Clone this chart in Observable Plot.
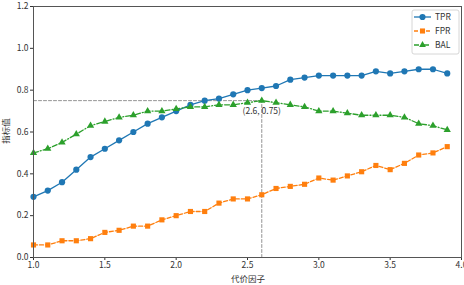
<!DOCTYPE html>
<html><head><meta charset="utf-8">
<script src="https://cdn.jsdelivr.net/npm/d3@7"></script>
<script src="https://cdn.jsdelivr.net/npm/@observablehq/plot@0.6"></script>
<style>body{margin:0;background:#fff}</style>
</head><body><div id="chart"></div>
<script>
const costFactor = [1.0,1.1,1.2,1.3,1.4,1.5,1.6,1.7,1.8,1.9,2.0,2.1,2.2,2.3,2.4,2.5,2.6,2.7,2.8,2.9,3.0,3.1,3.2,3.3,3.4,3.5,3.6,3.7,3.8,3.9];
const tpr = [0.29,0.32,0.36,0.42,0.48,0.52,0.56,0.60,0.64,0.67,0.70,0.73,0.75,0.76,0.78,0.80,0.81,0.82,0.85,0.86,0.87,0.87,0.87,0.87,0.89,0.88,0.89,0.90,0.90,0.88];
const fpr = [0.06,0.06,0.08,0.08,0.09,0.12,0.13,0.15,0.15,0.18,0.20,0.22,0.22,0.26,0.28,0.28,0.30,0.33,0.34,0.35,0.38,0.37,0.39,0.41,0.44,0.42,0.45,0.49,0.50,0.53];
const bal = [0.50,0.52,0.55,0.59,0.63,0.65,0.67,0.68,0.70,0.70,0.71,0.72,0.72,0.73,0.73,0.74,0.75,0.74,0.73,0.72,0.70,0.70,0.69,0.68,0.68,0.68,0.67,0.64,0.63,0.61];
const seriesNames = ["TPR","FPR","BAL"];
const xTicks = [1.0,1.5,2.0,2.5,3.0,3.5,4.0];
const yTicks = [0.0,0.2,0.4,0.6,0.8,1.0,1.2];
const best = {x: 2.6, y: 0.75};
const xLabel = "代价因子";
const yLabel = "指标值";

const colors = ["#1f77b4","#ff7f0e","#2ca02c"];
const dashes = [null,"4,2","5,2,1,2"];
const symbols = ["circle","square","triangle"];
const values = [tpr,fpr,bal];
const font = "'Noto Sans CJK SC', 'Noto Sans', sans-serif";

const marks = [
  Plot.line([[costFactor[0], best.y],[best.x, best.y]], {stroke:"#888", strokeWidth:0.9, strokeDasharray:"3,2"}),
  Plot.line([[best.x, 0],[best.x, best.y]], {stroke:"#888", strokeWidth:0.9, strokeDasharray:"3,2"}),
];
values.forEach((vals,i)=>{
  const d = costFactor.map((x,j)=>({x, y: vals[j]}));
  marks.push(Plot.line(d,{x:"x",y:"y",stroke:colors[i],strokeWidth:1.3,strokeDasharray:dashes[i]}));
  marks.push(Plot.dot(d,{x:"x",y:"y",fill:colors[i],symbol:()=>symbols[i],r:i===2?2.7:(i===1?2.9:3.1)}));
});
marks.push(Plot.text([best],{x:"x",y:"y",text:d=>`(${d.x}, ${d.y})`,dy:11,fontSize:8.5,fill:"#333"}));
marks.push(Plot.frame({stroke:"#555", strokeWidth:1}));

const chart = Plot.plot({
  width:464, height:285,
  marginLeft:33, marginRight:3, marginTop:6, marginBottom:28,
  style:{fontFamily:font, fontSize:"8.5px", color:"#333", background:"#fff"},
  x:{domain:[1.0,4.0], ticks:xTicks, tickFormat:d3.format(".1f"), tickSize:3, tickPadding:1, label:null},
  y:{domain:[0,1.2], ticks:yTicks, tickFormat:d3.format(".1f"), tickSize:3, tickPadding:2, label:null},
  marks
});

const svg = d3.select(chart);
svg.append("text").attr("x",248).attr("y",282).attr("text-anchor","middle")
  .attr("font-size","8.5px").attr("fill","#333").text(xLabel);
svg.append("text").attr("transform","translate(9,131) rotate(-90)").attr("text-anchor","middle")
  .attr("font-size","8.5px").attr("fill","#333").text(yLabel);

const lg = svg.append("g").attr("transform","translate(412,10)");
lg.append("rect").attr("width",47).attr("height",44).attr("rx",2).attr("fill","#fff").attr("stroke","#ccc").attr("stroke-width",0.8);
seriesNames.forEach((name,i)=>{
  const y = 7 + i*14;
  lg.append("line").attr("x1",2).attr("x2",19).attr("y1",y).attr("y2",y)
    .attr("stroke",colors[i]).attr("stroke-width",1.3).attr("stroke-dasharray",dashes[i]);
  lg.append("path").attr("transform",`translate(10.5,${y})`)
    .attr("d",d3.symbol([d3.symbolCircle,d3.symbolSquare,d3.symbolTriangle][i], [30,26,20][i])())
    .attr("fill",colors[i]);
  lg.append("text").attr("x",23).attr("y",y+3).attr("text-anchor","start")
    .attr("font-size","8.5px").attr("fill","#333").text(name);
});

document.getElementById("chart").appendChild(chart);
</script></body></html>
